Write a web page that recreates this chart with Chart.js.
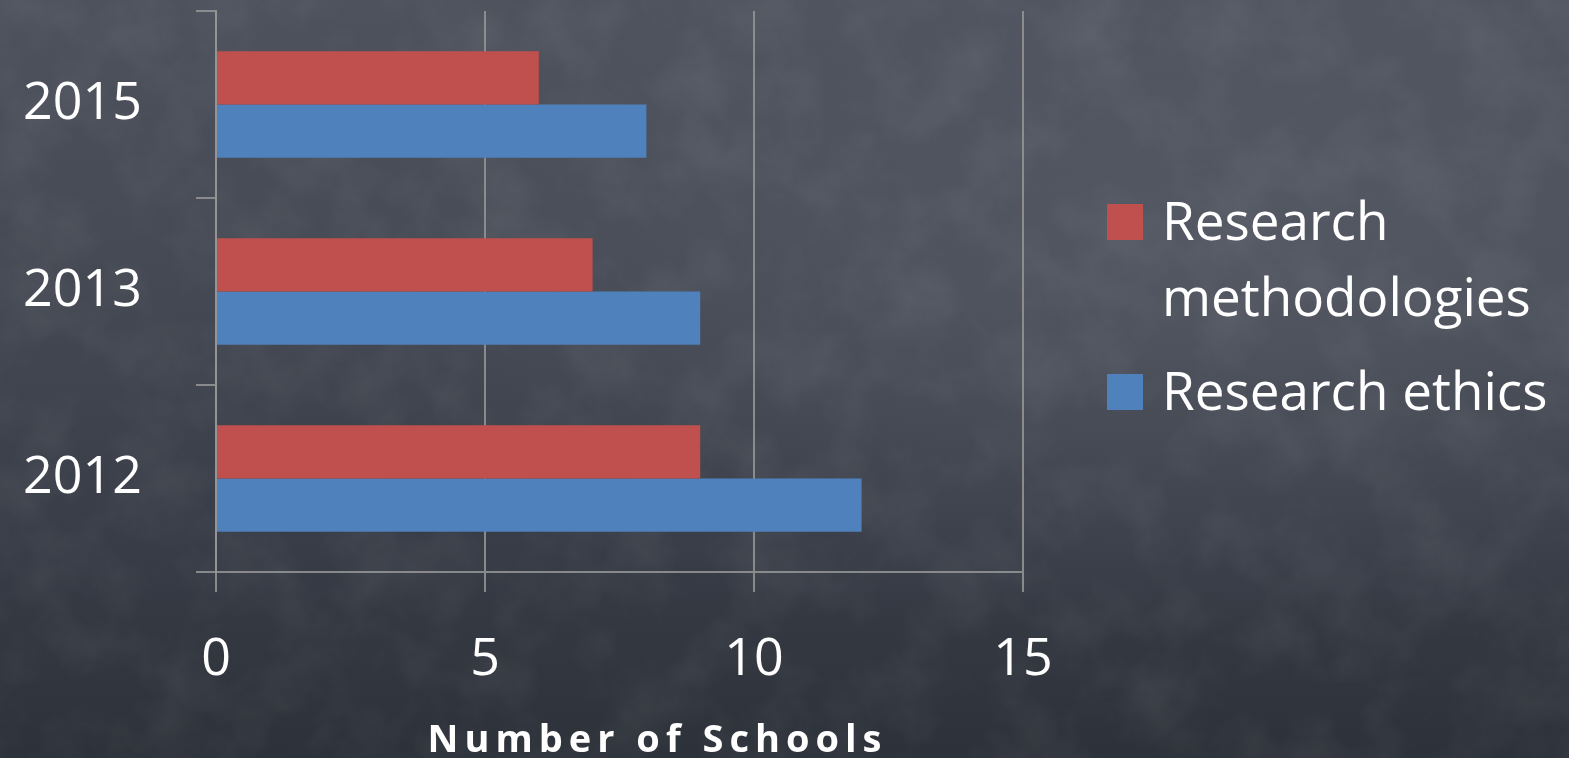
<!DOCTYPE html>
<html>
<head>
<meta charset="utf-8">
<script src="https://cdn.jsdelivr.net/npm/chart.js@4.4.1/dist/chart.umd.min.js"></script>
<style>
  html, body { margin: 0; padding: 0; }
  body {
    width: 1569px; height: 758px; overflow: hidden; position: relative;
    background:
      url("data:image/svg+xml,%3Csvg xmlns='http://www.w3.org/2000/svg' width='1569' height='758'%3E%3Cfilter id='n'%3E%3CfeTurbulence type='fractalNoise' baseFrequency='0.015' numOctaves='4' seed='7'/%3E%3CfeColorMatrix values='0 0 0 0 1 0 0 0 0 1 0 0 0 0 1 0.9 0 0 0 -0.35'/%3E%3C/filter%3E%3Crect width='100%25' height='100%25' filter='url(%23n)' opacity='0.13'/%3E%3C/svg%3E"),
      radial-gradient(ellipse at 80% 35%, rgba(110,115,128,0.35), rgba(0,0,0,0) 55%),
      linear-gradient(180deg, #4d525d 0%, #444852 40%, #373b45 75%, #2d3139 100%);
    font-family: "Open Sans", sans-serif;
  }
  #wrap { position: absolute; left: 0; top: 0; width: 1569px; height: 758px; }
  #legend { position: absolute; left: 1107px; top: 196px; color: #fff; }
  .item { display: flex; align-items: flex-start; margin-bottom: 32px; }
  .box { width: 36px; height: 36px; margin-top: 8px; margin-right: 19px; flex: none; }
  .txt { font-size: 53px; line-height: 76px; width: 420px; margin-top: -14px; }
</style>
</head>
<body>
<div id="wrap"><canvas id="chart"></canvas></div>
<div id="legend"></div>
<script>
const years = ['2015', '2013', '2012'];
const methodologies = [6, 7, 9];
const ethics = [8, 9, 12];
const xTicks = [0, 5, 10, 15];

// letter-spaced, slightly right-shifted axis title like the original slide
const spacedTitle = {
  id: 'spacedTitle',
  afterLayout(chart) {
    const s = chart.scales.x;
    if (s._spaced) return;
    const orig = s.drawTitle;
    s.drawTitle = function () {
      this.ctx.save();
      this.ctx.letterSpacing = '6px';
      this.ctx.translate(38, 2);
      orig.call(this);
      this.ctx.restore();
    };
    s._spaced = true;
  }
};

const noPad = s => { s.paddingTop = 0; s.paddingBottom = 0; s.paddingLeft = 0; s.paddingRight = 0; };

const chart = new Chart("chart", {
  type: 'bar',
  data: {
    labels: years,
    datasets: [{
      label: 'Research methodologies',
      data: methodologies,
      backgroundColor: '#C0504D'
    }, {
      label: 'Research ethics',
      data: ethics,
      backgroundColor: '#4F81BD'
    }]
  },
  options: {
    indexAxis: 'y',
    responsive: false,
    animation: false,
    categoryPercentage: 0.57,
    barPercentage: 1.0,
    layout: { padding: { top: 11, right: 493, left: 0, bottom: 0 } },
    plugins: { legend: { display: false }, tooltip: { enabled: false } },
    scales: {
      x: {
        min: 0, max: 15,
        afterBuildTicks: s => { s.ticks = xTicks.map(v => ({ value: v })); },
        afterFit: s => { s.height = 186; noPad(s); },
        grid: { color: 'rgba(150,150,150,0.85)', lineWidth: 2, tickLength: 20 },
        border: { color: 'rgba(150,150,150,0.85)', width: 2 },
        ticks: { color: '#fff', font: { family: 'Open Sans', size: 52 }, padding: 37, maxRotation: 0 },
        title: {
          display: true, text: 'Number of Schools', color: '#fff',
          font: { family: 'Open Sans', size: 38, weight: 'bold' },
          padding: { top: 0, bottom: -4 }
        }
      },
      y: {
        afterFit: s => { s.width = 216; noPad(s); },
        grid: { color: 'rgba(150,150,150,0.85)', lineWidth: 2, tickLength: 20, drawOnChartArea: false, offset: true },
        border: { color: 'rgba(150,150,150,0.85)', width: 2 },
        ticks: { color: '#fff', font: { family: 'Open Sans', size: 52 }, padding: 54 }
      }
    }
  },
  plugins: [spacedTitle]
});
chart.canvas.style.width = '1569px';
chart.resize(1569, 758);

const legend = document.getElementById('legend');
chart.data.datasets.forEach(ds => {
  const item = document.createElement('div');
  item.className = 'item';
  const box = document.createElement('div');
  box.className = 'box';
  box.style.background = ds.backgroundColor;
  const txt = document.createElement('div');
  txt.className = 'txt';
  txt.textContent = ds.label;
  item.appendChild(box);
  item.appendChild(txt);
  legend.appendChild(item);
});
</script>
</body>
</html>
